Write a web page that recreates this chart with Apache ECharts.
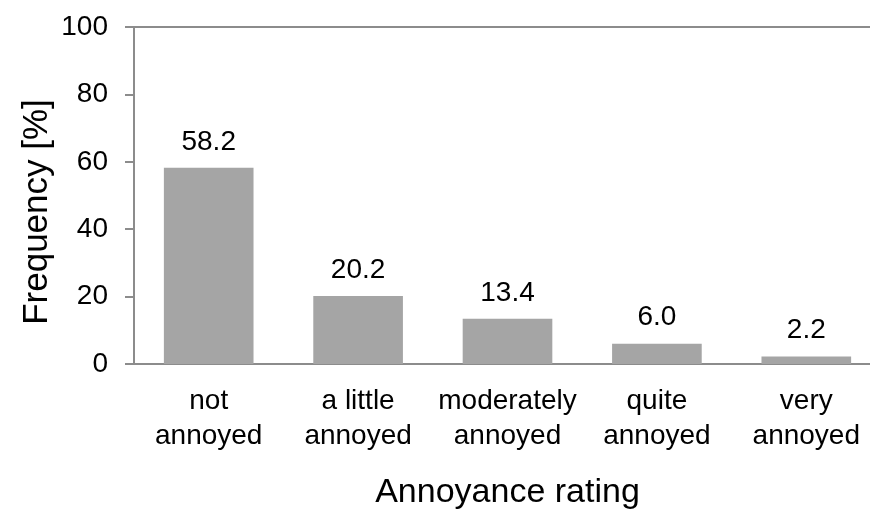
<!DOCTYPE html>
<html>
<head>
<meta charset="utf-8">
<script src="https://cdn.jsdelivr.net/npm/echarts@6/dist/echarts.min.js"></script>
<style>
  html, body { margin: 0; padding: 0; background: #fff; }
  #chart { width: 870px; height: 509px; }
</style>
</head>
<body>
<div id="chart"></div>
<script>
// Annoyance rating distribution
const categories = ['not\nannoyed', 'a little\nannoyed', 'moderately\nannoyed', 'quite\nannoyed', 'very\nannoyed'];
const frequency = [58.2, 20.2, 13.4, 6.0, 2.2];
const yTicks = [0, 20, 40, 60, 80, 100];

const FONT = '"Liberation Sans", Arial, sans-serif';
const AXIS_COLOR = '#8c8c8c';

const chart = echarts.init(document.getElementById('chart'), null, { renderer: 'canvas' });

chart.setOption({
  animation: false,
  backgroundColor: '#ffffff',
  textStyle: { fontFamily: FONT, color: '#000' },
  grid: {
    left: 134, top: 27, width: 747, height: 337,
    containLabel: false,
    outerBoundsMode: 'none'
  },
  xAxis: [
    {
      type: 'category',
      data: categories,
      axisLine: { show: true, lineStyle: { color: AXIS_COLOR, width: 2 } },
      axisTick: { show: false },
      axisLabel: { color: '#000', fontSize: 28, fontFamily: FONT, margin: 20, lineHeight: 35, interval: 0 },
      name: 'Annoyance rating',
      nameLocation: 'middle',
      nameGap: 112,
      nameTextStyle: { color: '#000', fontSize: 34, fontFamily: FONT }
    },
    {
      // plain line closing the plot along its top edge
      type: 'category',
      position: 'top',
      data: categories,
      axisLine: { show: true, lineStyle: { color: AXIS_COLOR, width: 2 } },
      axisTick: { show: false },
      axisLabel: { show: false }
    }
  ],
  yAxis: {
    type: 'value',
    min: yTicks[0],
    max: yTicks[yTicks.length - 1],
    interval: yTicks[1] - yTicks[0],
    axisLine: { show: true, lineStyle: { color: AXIS_COLOR, width: 2 } },
    axisTick: { show: true, inside: false, length: 9, lineStyle: { color: AXIS_COLOR, width: 2 } },
    axisLabel: { color: '#000', fontSize: 28, fontFamily: FONT, margin: 26 },
    splitLine: { show: false }
  },
  graphic: [{
    type: 'text',
    x: 37,
    y: 212,
    rotation: Math.PI / 2,
    style: {
      text: 'Frequency [%]',
      font: '35px ' + FONT,
      fill: '#000',
      align: 'center',
      verticalAlign: 'middle'
    }
  }],
  series: [{
    type: 'bar',
    data: frequency,
    barWidth: '60%',
    itemStyle: { color: '#a5a5a5' },
    label: {
      show: true,
      position: 'top',
      distance: 12,
      color: '#000',
      fontSize: 28,
      fontFamily: FONT,
      formatter: p => p.value.toFixed(1)
    }
  }]
});
</script>
</body>
</html>
